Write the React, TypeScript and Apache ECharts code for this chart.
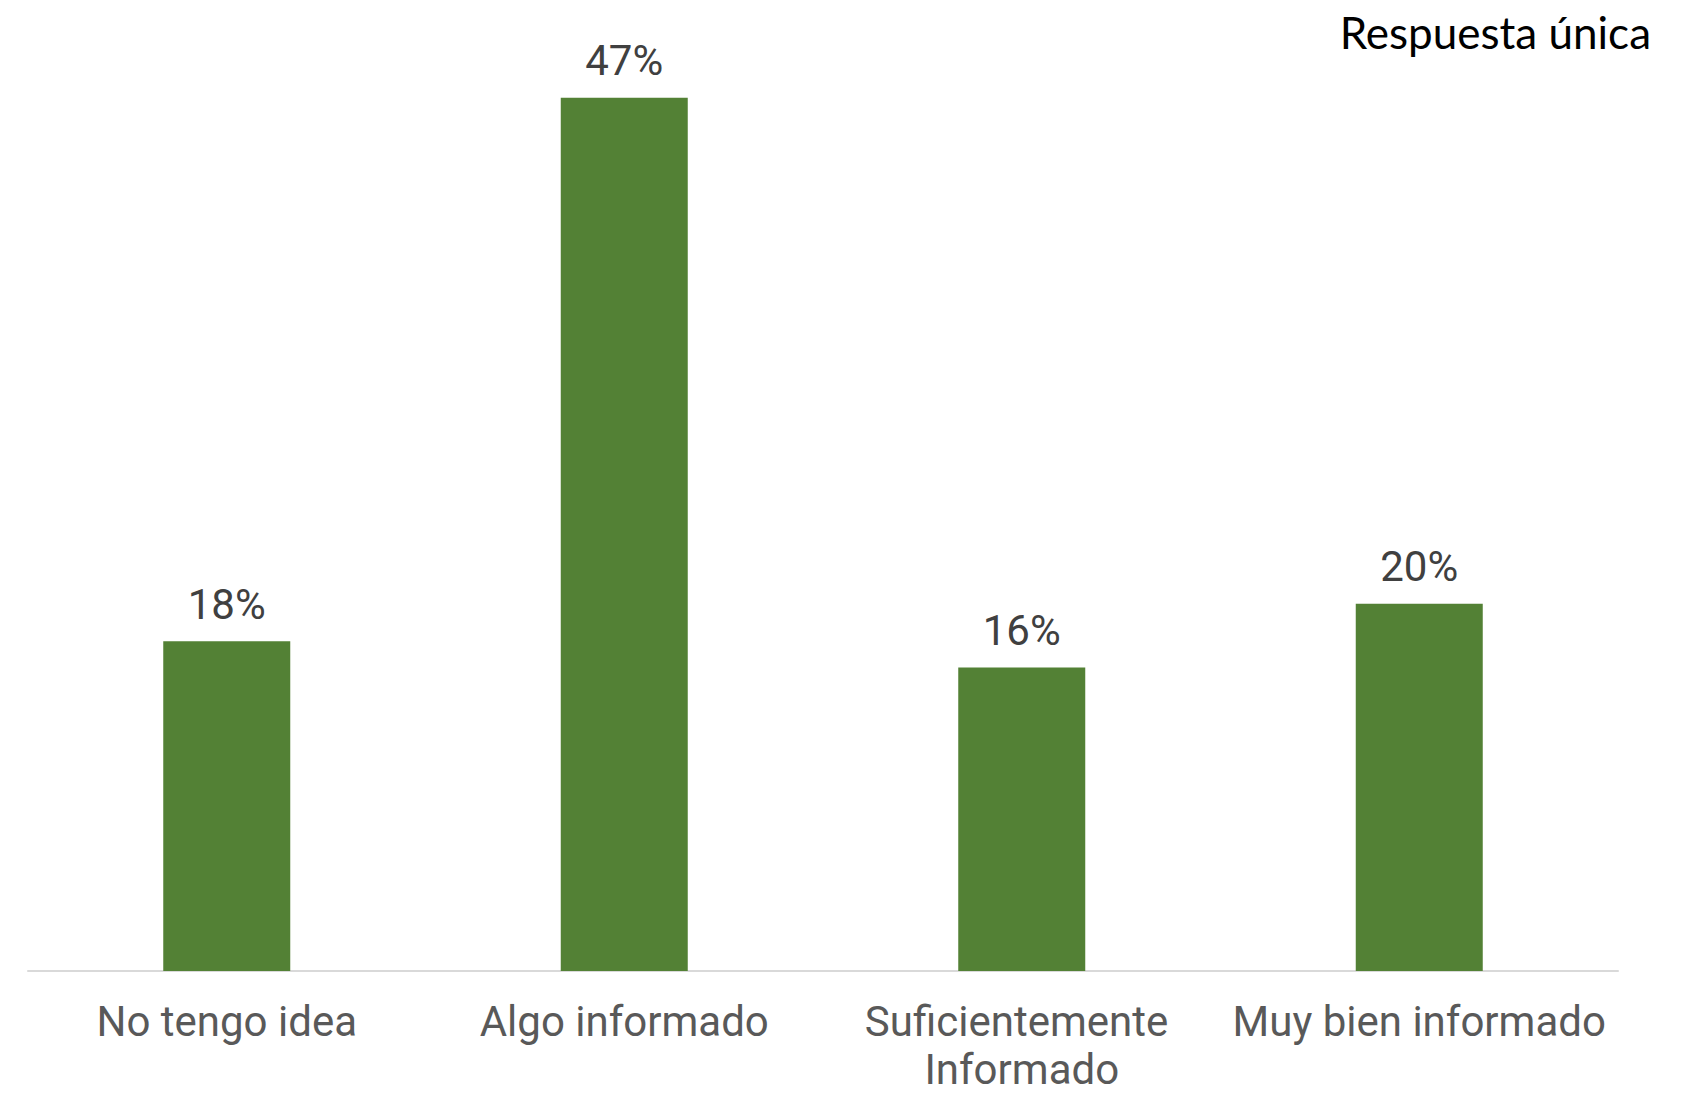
import React, { useEffect, useRef } from "react";
import * as echarts from "echarts";

const categories = ["No tengo idea", "Algo informado", "Suficientemente Informado", "Muy bien informado"];
const values = [17.6, 46.6, 16.2, 19.6];
const cornerNote = "Respuesta única";

export default function App() {
  const ref = useRef<HTMLDivElement>(null);
  useEffect(() => {
    const chart = echarts.init(ref.current!, null, { renderer: "svg" });
    chart.setOption({
      animation: false,
      backgroundColor: "#ffffff",
      title: {
        text: cornerNote,
        right: 38,
        top: 5,
        textStyle: { fontFamily: "Lato", fontSize: 44, fontWeight: "normal", color: "#000000" },
      },
      grid: { left: 28, right: 76, top: 34, bottom: 124, containLabel: false, outerBoundsMode: "none" },
      xAxis: {
        type: "category",
        data: categories,
        axisLine: { show: true, lineStyle: { color: "#d9d9d9", width: 2 } },
        axisTick: { show: false },
        axisLabel: {
          interval: 0,
          margin: 26,
          width: 390,
          overflow: "break",
          fontFamily: "Roboto",
          fontSize: 42,
          lineHeight: 48,
          color: "#595959",
        },
      },
      yAxis: { type: "value", min: 0, max: 50, show: false, splitLine: { show: false } },
      series: [
        {
          type: "bar",
          data: values,
          barWidth: 127,
          itemStyle: { color: "#538135" },
          label: {
            show: true,
            position: "top",
            distance: 16,
            fontFamily: "Roboto",
            fontSize: 42,
            color: "#404040",
            formatter: (p: any) => Math.round(p.value) + "%",
          },
        },
      ],
    });
    return () => chart.dispose();
  }, []);
  return (
    <div
      ref={ref}
      style={{ position: "absolute", left: 0, top: 0, width: 1694, height: 1095, background: "#fff" }}
    />
  );
}
